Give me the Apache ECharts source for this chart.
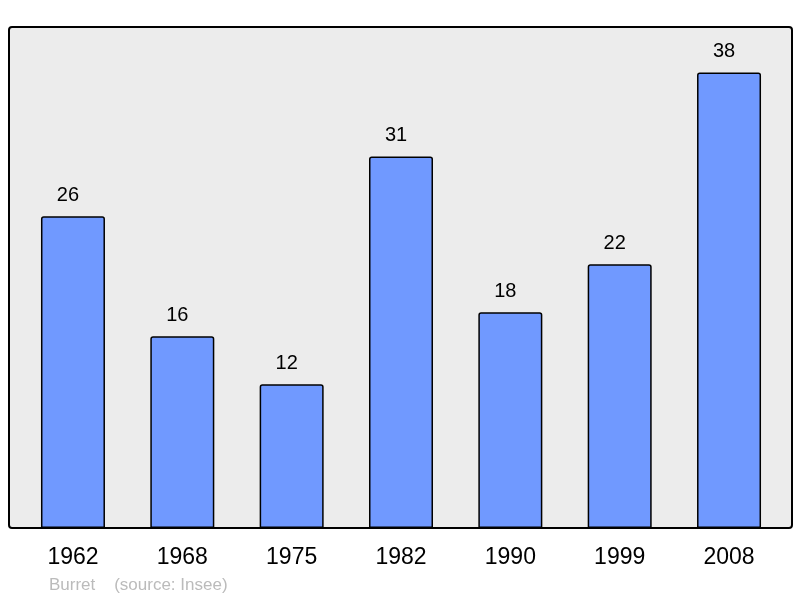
<!DOCTYPE html>
<html lang="en">

<head>
  <meta charset="UTF-8">
  <title>Population</title>
  <style>
    html, body { margin: 0; padding: 0; background: #fff; }
  </style>
</head>

<body>
  <div id="main" style="width: 800px; height: 598px"></div>

  <script src="https://cdn.jsdelivr.net/npm/echarts@6/dist/echarts.min.js"></script>

  <script>
    const years = ["1962", "1968", "1975", "1982", "1990", "1999", "2008"]
    const population = [26, 16, 12, 31, 18, 22, 38]
    const credit = "Burret    (source: Insee)"

    const myChart = echarts.init(document.getElementById('main'))
    const font = "Liberation Sans, Arial, sans-serif"

    const option = {
      backgroundColor: "#fff",
      animation: false,
      graphic: [
        {
          type: "rect",
          z: -10,
          shape: { x: 9, y: 27, width: 783, height: 501, r: 3 },
          style: { fill: "#ececec", stroke: "#000", lineWidth: 2 }
        },
        {
          type: "text",
          left: 49,
          top: 577,
          style: { text: credit, fill: "#bbbbbb", font: "17px " + font }
        }
      ],
      grid: { left: 18.3, right: 16.3, top: 27, bottom: 70 },
      xAxis: {
        type: "category",
        data: years,
        axisLine: { show: false },
        axisTick: { show: false },
        axisLabel: { color: "#000", fontSize: 23, fontFamily: font, margin: 18 }
      },
      yAxis: {
        type: "value",
        min: 0,
        max: 41.8,
        show: false,
        splitLine: { show: false }
      },
      series: [
        {
          type: "bar",
          data: population,
          barWidth: 64,
          itemStyle: {
            color: "#7099ff",
            borderColor: "#000",
            borderWidth: 1.5,
            borderRadius: [2, 2, 0, 0]
          },
          label: {
            show: true,
            position: "top",
            distance: 11,
            offset: [-5, 0],
            color: "#000",
            fontSize: 20,
            fontFamily: font
          }
        }
      ]
    }

    myChart.setOption(option)
  </script>
</body>

</html>
